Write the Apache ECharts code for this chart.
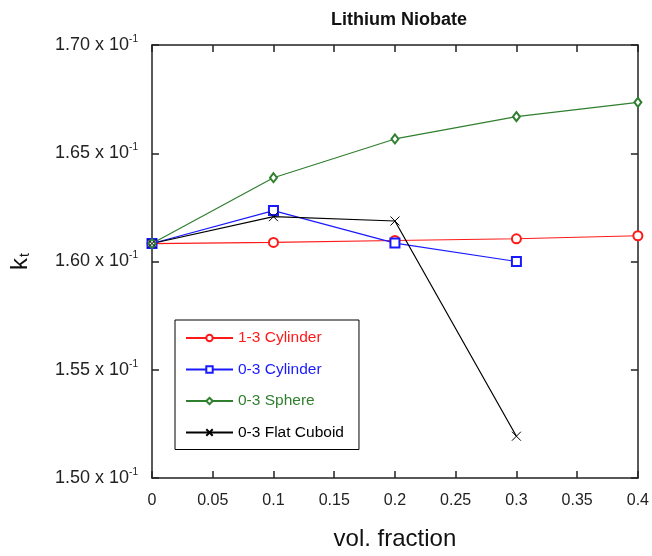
<!DOCTYPE html>
<html>
<head>
<meta charset="utf-8">
<script src="https://cdn.jsdelivr.net/npm/echarts@6/dist/echarts.min.js"></script>
<style>
html, body { margin: 0; padding: 0; background: #fff; }
#main { width: 652px; height: 556px; }
</style>
</head>
<body>
<div id="main"></div>
<script>
// 数据
var volFraction = [0, 0.1, 0.2, 0.3, 0.4];
var cyl13 = [0.16083, 0.16088, 0.16097, 0.16105, 0.16119];
var cyl03 = [0.16083, 0.16235, 0.16085, 0.16000];
var sphere03 = [0.16083, 0.16387, 0.16566, 0.16669, 0.16735];
var cuboid03 = [0.16083, 0.16207, 0.16187, 0.15193];

function pairs(ys) {
    return ys.map(function (y, i) { return [volFraction[i], y]; });
}

var myChart = echarts.init(document.getElementById('main'));
var font = 'Liberation Sans, Arial, sans-serif';
var crossPath = 'path://M0,0L10,10M10,0L0,10';
var axisCommon = {
    axisLine: { onZero: false, lineStyle: { color: '#222', width: 1.5 } },
    axisTick: { inside: true, length: 7, lineStyle: { color: '#222', width: 1.5 } },
    splitLine: { show: false }
};

var option = {
    animation: false,
    backgroundColor: '#fff',
    title: {
        text: 'Lithium Niobate',
        left: 394,
        top: 6,
        textAlign: 'center',
        textStyle: { fontFamily: font, fontSize: 18, fontWeight: 'bold', color: '#111' }
    },
    grid: { left: 151, right: 14, top: 45, bottom: 78 },
    legend: {
        orient: 'vertical',
        left: 175,
        top: 320,
        padding: [9, 15, 8, 10],
        itemWidth: 47,
        itemHeight: 8,
        itemGap: 13.5,
        borderColor: '#000',
        borderWidth: 1,
        textStyle: { fontFamily: font, fontSize: 15.5, lineHeight: 18 },
        data: [
            { name: '1-3 Cylinder', textStyle: { color: '#ff1a1a' } },
            { name: '0-3 Cylinder', textStyle: { color: '#1a1aff' } },
            { name: '0-3 Sphere', textStyle: { color: '#2f7f2f' } },
            { name: '0-3 Flat Cuboid', textStyle: { color: '#000' } }
        ]
    },
    xAxis: [Object.assign({
        type: 'value',
        min: 0, max: 0.4, interval: 0.05,
        name: 'vol. fraction',
        nameLocation: 'middle',
        nameGap: 49,
        nameTextStyle: { fontFamily: font, fontSize: 24, color: '#111' },
        axisLabel: { fontFamily: font, fontSize: 16, color: '#222', margin: 15 }
    }, axisCommon), Object.assign({
        type: 'value',
        position: 'top',
        min: 0, max: 0.4, interval: 0.05,
        axisLabel: { show: false }
    }, axisCommon)],
    yAxis: [Object.assign({
        type: 'value',
        min: 0.15, max: 0.17, interval: 0.005,
        name: '{k|k}{t|t}',
        nameLocation: 'middle',
        nameGap: 120,
        nameTextStyle: {
            fontFamily: font, color: '#111',
            rich: {
                k: { fontSize: 24, fontFamily: font, color: '#111' },
                t: { fontSize: 14, fontFamily: font, color: '#111', verticalAlign: 'bottom', padding: [0, 0, 0, 1] }
            }
        },
        axisLabel: {
            fontFamily: font, fontSize: 18, color: '#222', margin: 14,
            formatter: function (v) {
                return '{m|' + (v * 10).toFixed(2) + ' x 10}{s|-1}';
            },
            rich: {
                m: { fontFamily: font, fontSize: 18, color: '#222' },
                s: { fontFamily: font, fontSize: 10, color: '#222', verticalAlign: 'top', padding: [0, 0, 12, 0] }
            }
        }
    }, axisCommon), Object.assign({
        type: 'value',
        position: 'right',
        min: 0.15, max: 0.17, interval: 0.005,
        axisLabel: { show: false }
    }, axisCommon)],
    series: [{
        name: '1-3 Cylinder',
        type: 'line',
        data: pairs(cyl13),
        symbol: 'emptyCircle',
        symbolSize: 9,
        color: '#ff1a1a',
        lineStyle: { width: 1.2, color: '#ff1a1a' },
        itemStyle: { color: '#ff1a1a', borderWidth: 1.2 }
    }, {
        name: '0-3 Cylinder',
        type: 'line',
        data: pairs(cyl03),
        symbol: 'emptyRect',
        symbolSize: 9,
        color: '#1a1aff',
        lineStyle: { width: 1.2, color: '#1a1aff' },
        itemStyle: { color: '#1a1aff', borderWidth: 1.2 }
    }, {
        name: '0-3 Sphere',
        type: 'line',
        data: pairs(sphere03),
        symbol: 'emptyDiamond',
        symbolSize: [7, 9],
        color: '#2f7f2f',
        lineStyle: { width: 1.2, color: '#2f7f2f' },
        itemStyle: { color: '#2f7f2f', borderWidth: 1 }
    }, {
        name: '0-3 Flat Cuboid',
        type: 'line',
        data: pairs(cuboid03),
        symbol: crossPath,
        symbolSize: 9,
        color: '#000',
        lineStyle: { width: 1.2, color: '#000' },
        itemStyle: { color: '#000', borderColor: '#000', borderWidth: 1 }
    }]
};

myChart.setOption(option);
</script>
</body>
</html>
